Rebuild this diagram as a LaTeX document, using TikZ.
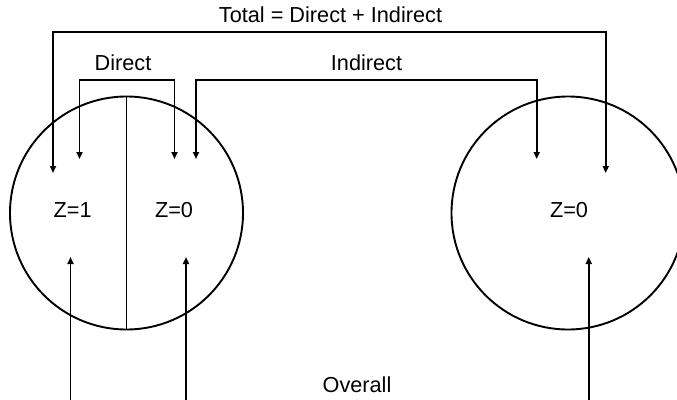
\documentclass[tikz,border=0pt]{standalone}
\usepackage{fontspec}
\setmainfont{Liberation Sans}
\usetikzlibrary{arrows.meta}
\begin{document}
\begin{tikzpicture}[x=1pt,y=-1pt,line width=1.9pt,
  lbl/.style={anchor=base,inner sep=0pt,font=\fontsize{21.7}{24}\selectfont},
  grp/.style={circle,draw,inner sep=0pt,minimum size=233pt},
  arr/.style={-{Triangle[length=7pt,width=6pt]}},
  barr/.style={{Triangle[length=7pt,width=6pt]}-{Triangle[length=7pt,width=6pt]}}]
\useasboundingbox (0,0) rectangle (677,399);
\node[grp] (left) at (126.5,213) {};
\node[grp] (right) at (568,213) {};
\draw[line width=1.2pt] (left.north) -- (left.south);
\node[lbl] (z1) at (72.7,217.5) {Z=1};
\node[lbl] (z0) at (174,217.5) {Z=0};
\node[lbl] (z0r) at (569,217.5) {Z=0};
\node[lbl] (total) at (330.5,22) {Total = Direct + Indirect};
\node[lbl] (direct) at (123,70) {Direct};
\node[lbl] (indirect) at (366.5,70) {Indirect};
\node[lbl] (overall) at (357,392.3) {Overall};
% arrow ends
\coordinate (tot1) at (53,173);
\coordinate (tot0) at (605.7,173);
\coordinate (dir1) at (79.5,159);
\coordinate (dir0) at (174.5,159);
\coordinate (ind0) at (196,159);
\coordinate (ind2) at (536.7,159);
\coordinate (totbar) at (330,32.3);
\coordinate (dirbar) at (127,80);
\coordinate (indbar) at (366,80);
\draw[barr] (tot1) |- (totbar) -| (tot0);
\draw[barr] (dir1) |- (dirbar) -| (dir0);
\draw[barr] (ind0) |- (indbar) -| (ind2);
\coordinate (ov1) at (70.5,257);
\coordinate (ov0) at (186,257);
\coordinate (ov2) at (588.7,257);
\coordinate (ov1b) at (70.5,400);
\coordinate (ov0b) at (186,400);
\coordinate (ov2b) at (588.7,400);
\draw[arr] (ov1b) -- (ov1);
\draw[arr] (ov0b) -- (ov0);
\draw[arr] (ov2b) -- (ov2);
\end{tikzpicture}
\end{document}
